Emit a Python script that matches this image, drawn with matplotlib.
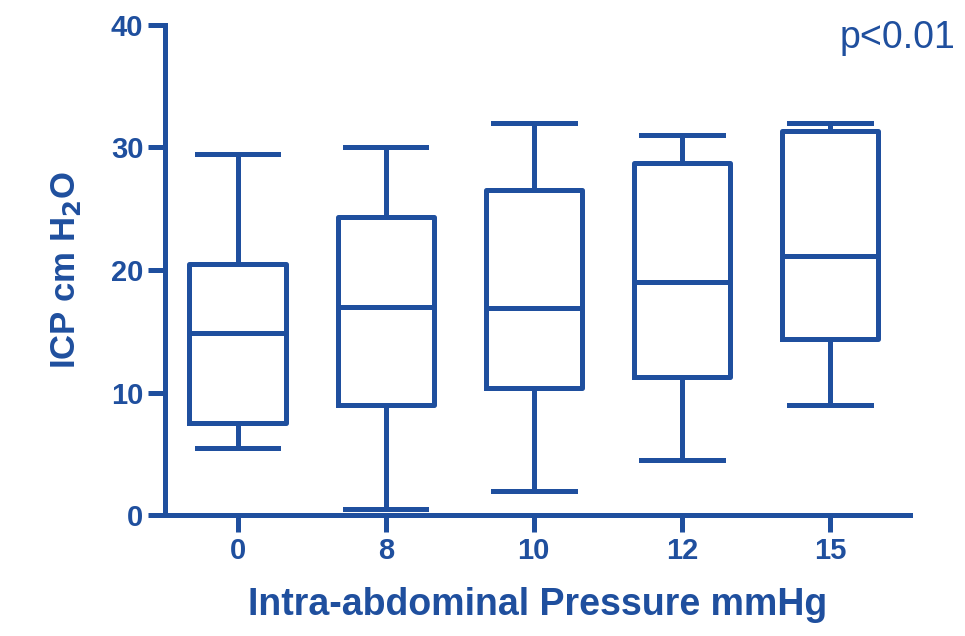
import matplotlib.pyplot as plt

# Datos (cm H2O)
categorias = ['0', '8', '10', '12', '15']
minimos = [5.5, 0.5, 2.0, 4.5, 9.0]
q1 = [7.5, 9.0, 10.4, 11.3, 14.4]
medianas = [14.9, 17.0, 16.9, 19.0, 21.1]
q3 = [20.5, 24.3, 26.5, 28.7, 31.3]
maximos = [29.5, 30.0, 32.0, 31.0, 32.0]

azul = '#1f4f9e'
lw = 3.6

stats = []
for i, cat in enumerate(categorias):
    stats.append({'label': cat, 'whislo': minimos[i], 'q1': q1[i], 'med': medianas[i],
                  'q3': q3[i], 'whishi': maximos[i]})

fig = plt.figure(figsize=(9.65, 6.36), dpi=100)
ax = fig.add_axes([0.171, 0.19, 0.772, 0.771])

ax.bxp(stats, positions=range(len(categorias)), widths=0.65, showfliers=False,
       boxprops=dict(color=azul, linewidth=lw),
       medianprops=dict(color=azul, linewidth=lw),
       whiskerprops=dict(color=azul, linewidth=lw),
       capprops=dict(color=azul, linewidth=lw), capwidths=0.55)

ax.set_xlim(-0.49, 4.54)
ax.set_ylim(0, 40)
ax.set_yticks([0, 10, 20, 30, 40])
ax.set_xticks(range(len(categorias)))
ax.set_xticklabels(categorias)

for lado in ['top', 'right']:
    ax.spines[lado].set_visible(False)
for lado in ['left', 'bottom']:
    ax.spines[lado].set_color(azul)
    ax.spines[lado].set_linewidth(lw)

ax.tick_params(axis='both', colors=azul, width=lw, length=12, direction='out')
for t in ax.get_yticklabels():
    t.set_fontfamily('Liberation Sans')
    t.set_fontweight('bold')
    t.set_fontsize(21)
for t in ax.get_xticklabels():
    t.set_fontfamily('Liberation Sans')
    t.set_fontweight('bold')
    t.set_fontsize(21)

ax.set_ylabel('ICP cm H$_\\mathbf{2}$O', fontsize=25, color=azul, fontfamily='Liberation Sans',
              fontweight='bold', labelpad=20)
ax.set_xlabel('Intra-abdominal Pressure mmHg', fontsize=27, color=azul,
              fontfamily='Liberation Sans', fontweight='bold', labelpad=16)

fig.text(0.99, 0.925, 'p<0.01', fontsize=27, color=azul, ha='right', fontfamily='Liberation Sans')

fig.savefig('out.png', dpi=100)
